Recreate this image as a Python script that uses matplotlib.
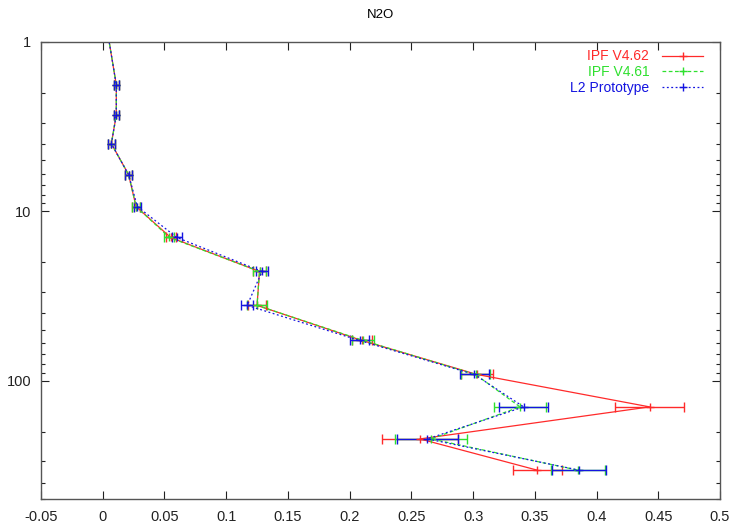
import matplotlib
matplotlib.use("Agg")
import matplotlib.pyplot as plt
from matplotlib.lines import Line2D
from matplotlib.ticker import LogLocator, NullFormatter, FixedLocator, FixedFormatter

plt.rcParams['font.family'] = ['Liberation Sans', 'DejaVu Sans']

title = "N2O"
pressure = [0.8, 1.8, 2.7, 4.0, 6.1, 9.4, 14.3, 22.7, 36.0, 58.0, 92.0, 143, 221, 338]

labels = ["IPF V4.62", "IPF V4.61", "L2 Prototype"]
colors = ["#ff2a2a", "#2ee02e", "#1414e0"]

red_x = [0.003, 0.011, 0.011, 0.007, 0.021, 0.027, 0.055, 0.127, 0.125, 0.210, 0.303, 0.443, 0.257, 0.352]
red_err = [0.001, 0.002, 0.002, 0.003, 0.003, 0.003, 0.004, 0.005, 0.007, 0.008, 0.013, 0.028, 0.031, 0.020]

green_x = [0.003, 0.011, 0.011, 0.007, 0.021, 0.027, 0.054, 0.127, 0.125, 0.211, 0.302, 0.338, 0.266, 0.385]
green_err = [0.001, 0.002, 0.002, 0.003, 0.003, 0.003, 0.004, 0.005, 0.008, 0.009, 0.012, 0.021, 0.029, 0.022]

blue_x = [0.003, 0.011, 0.011, 0.007, 0.021, 0.028, 0.060, 0.129, 0.117, 0.208, 0.301, 0.341, 0.263, 0.386]
blue_err = [0.001, 0.002, 0.002, 0.003, 0.003, 0.003, 0.004, 0.005, 0.005, 0.008, 0.012, 0.020, 0.025, 0.022]

x_ticks = [-0.05, 0, 0.05, 0.1, 0.15, 0.2, 0.25, 0.3, 0.35, 0.4, 0.45, 0.5]
x_tick_labels = ["-0.05", "0", "0.05", "0.1", "0.15", "0.2", "0.25", "0.3", "0.35", "0.4", "0.45", "0.5"]
y_ticks = [1, 10, 100]
y_tick_labels = ["1", "10", "100"]

fig = plt.figure(figsize=(7.31, 5.23), dpi=100)
ax = fig.add_axes([41 / 731, 1 - 499 / 523, 679 / 731, 457.3 / 523])

series = [(red_x, red_err, '-'), (green_x, green_err, (0, (3, 2))), (blue_x, blue_err, (0, (1.5, 2)))]
handles = []
for (xs, errs, ls), c, lab in zip(series, colors, labels):
    ax.errorbar(xs, pressure, xerr=errs, color=c, linestyle=ls, linewidth=0.9,
                marker='+', markersize=6, mew=1.0, elinewidth=1.0, capsize=3.5, capthick=1.0)
    handles.append(Line2D([0], [0], color=c, linestyle=ls, linewidth=0.9, marker='+', markersize=6, mew=1.0))

ax.set_yscale('log')
ax.set_ylim(500, 1)
ax.set_xlim(-0.05, 0.5)
ax.xaxis.set_major_locator(FixedLocator(x_ticks))
ax.xaxis.set_major_formatter(FixedFormatter(x_tick_labels))
ax.yaxis.set_major_locator(FixedLocator(y_ticks))
ax.yaxis.set_major_formatter(FixedFormatter(y_tick_labels))
ax.yaxis.set_minor_locator(LogLocator(base=10, subs=range(2, 10)))
ax.yaxis.set_minor_formatter(NullFormatter())

ax.tick_params(which='both', direction='in', top=True, right=True, labelsize=10.5, colors='#222222')
ax.tick_params(which='major', length=6, width=0.8)
ax.tick_params(which='minor', length=3, width=0.8)
ax.tick_params(axis='x', pad=8)
ax.tick_params(axis='y', pad=7)
for s in ax.spines.values():
    s.set_color('#555555')
    s.set_linewidth(1.0)

ax.set_title(title, fontsize=9.5, pad=17)

leg = ax.legend(handles, labels, loc='upper right', frameon=False, markerfirst=False,
                bbox_to_anchor=(1.0, 1.0 + 9 / 457.3),
                handlelength=3.0, fontsize=10, borderaxespad=0.9, labelspacing=0.12,
                handletextpad=0.9, borderpad=0.3)
for t, c in zip(leg.get_texts(), colors):
    t.set_color(c)

fig.savefig("out.png", dpi=100)
